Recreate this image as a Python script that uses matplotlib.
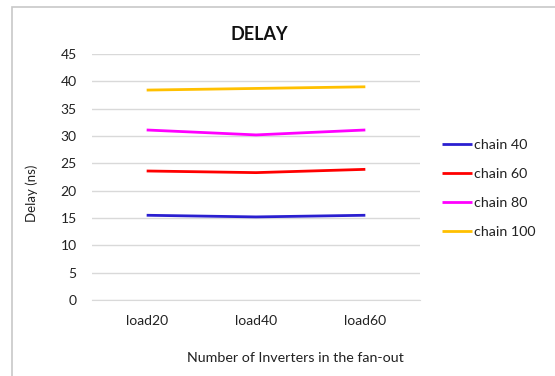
import matplotlib
matplotlib.use("Agg")
import matplotlib.pyplot as plt
from matplotlib.patches import Rectangle

plt.rcParams['font.family'] = ['Lato', 'DejaVu Sans']

categories = ["load20", "load40", "load60"]
series_names = ["chain 40", "chain 60", "chain 80", "chain 100"]
chain40 = [15.5, 15.2, 15.5]
chain60 = [23.6, 23.3, 23.9]
chain80 = [31.1, 30.2, 31.1]
chain100 = [38.4, 38.7, 39.0]
y_ticks = [0, 5, 10, 15, 20, 25, 30, 35, 40, 45]

colors = ["#2a1fd0", "#ff0000", "#ff00ff", "#ffc000"]

W, H = 555, 376
fig = plt.figure(figsize=(W / 100, H / 100), dpi=100)
fig.patch.set_facecolor("white")

# chart area border (runs off the right and bottom edges)
fig.patches.append(Rectangle((12 / W, -0.1), 1.2, 1 - 7 / H + 0.1,
                             transform=fig.transFigure, fill=False,
                             edgecolor="#c8c8c8", linewidth=1.2))

ax = fig.add_axes([92 / W, 1 - 300 / H, (420 - 92) / W, (300 - 54) / H])
x = range(len(categories))
for vals, name, c in zip([chain40, chain60, chain80, chain100], series_names, colors):
    ax.plot(x, vals, color=c, linewidth=2.0, label=name, solid_capstyle="butt")

ax.set_xlim(-0.5, len(categories) - 0.5)
ax.set_ylim(0, 45)
ax.set_yticks(y_ticks)
ax.set_xticks(list(x))
ax.set_xticklabels(categories)
ax.grid(axis="y", color="#d9d9d9", linewidth=1)
ax.set_axisbelow(True)
for s in ["top", "right", "left"]:
    ax.spines[s].set_visible(False)
ax.spines["bottom"].set_color("#d9d9d9")
ax.tick_params(axis="both", length=0, labelsize=10, colors="#222222")
ax.tick_params(axis="y", pad=11)
ax.tick_params(axis="x", pad=11)

fig.text(259 / W, 1 - 35 / H, "DELAY", ha="center", va="center",
         fontsize=13, fontweight="bold", color="#111111")
fig.text(295 / W, 1 - 358 / H, "Number of Inverters in the fan-out",
         ha="center", va="center", fontsize=10.3, color="#222222")
fig.text(32 / W, 1 - 193 / H, "Delay (ns)", ha="center", va="center",
         rotation=90, fontsize=9.5, color="#222222")

fig.legend(loc="center left", bbox_to_anchor=(429 / W, 1 - 188.5 / H),
           frameon=False, fontsize=10.3, handlelength=2.1, handletextpad=0.15,
           labelspacing=1.2, labelcolor="#222222")

fig.savefig("out.png", dpi=100)
